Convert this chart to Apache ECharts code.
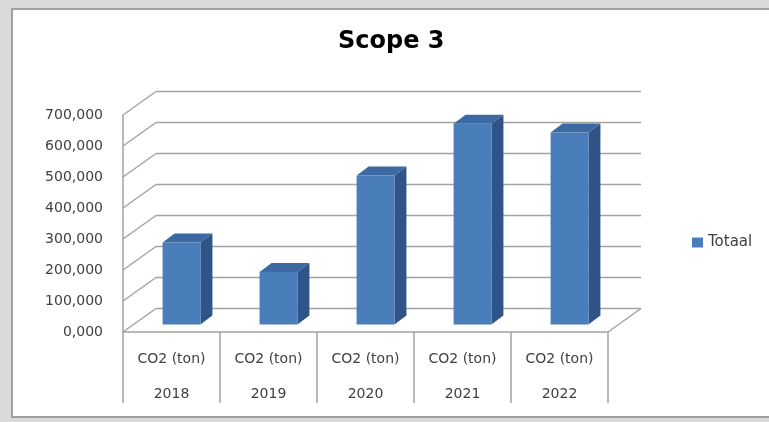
<!DOCTYPE html>
<html>
<head>
<meta charset="utf-8">
<script src="https://cdn.jsdelivr.net/npm/echarts@6/dist/echarts.min.js"></script>
<style>
  html, body { margin: 0; padding: 0; background: #d9d9d9; }
  #container { width: 769px; height: 422px; }
</style>
</head>
<body>
<div id="container"></div>
<script>
// data
var years = ['2018', '2019', '2020', '2021', '2022'];
var unitLabel = 'CO2 (ton)';
var totaal = [265, 170, 481, 648, 620];
var yTicks = [0, 100, 200, 300, 400, 500, 600, 700];

// 3D look
var WALL_DX = 33, WALL_DY = -23.5;   // back wall offset
var BAR_DX = 10, BAR_DY = -7.4;      // bar front face offset from front plane
var SIDE_DX = 12, SIDE_DY = -9;      // bar depth
var gridColor = '#a3a3a3';
var textColor = '#404040';
var font = 'DejaVu Sans';

var dom = document.getElementById('container');
var myChart = echarts.init(dom, null, { renderer: 'canvas' });

function fmt(v) {
  return v.toFixed(3).replace('.', ',');
}

// back wall, left wall lines, floor edge
function renderWalls(params, api) {
  var cs = params.coordSys;
  var left = cs.x, right = cs.x + cs.width;
  var y = api.coord([0, api.value(1)])[1];
  var style = { stroke: gridColor, lineWidth: 1.5 };
  var children = [
    { type: 'line', shape: { x1: left, y1: y, x2: left + WALL_DX, y2: y + WALL_DY }, style: style },
    { type: 'line', shape: { x1: left + WALL_DX, y1: y + WALL_DY, x2: right + WALL_DX, y2: y + WALL_DY }, style: style }
  ];
  if (api.value(1) === 0) {
    children.push({ type: 'line', shape: { x1: right, y1: y, x2: right + WALL_DX, y2: y + WALL_DY }, style: style });
  }
  return { type: 'group', children: children };
}

function renderBar(params, api) {
  var i = api.value(0);
  var base = api.coord([i, 0]);
  var top = api.coord([i, api.value(1)]);
  var band = api.size([1, 0])[0];
  var w = band * 0.39;
  var x0 = base[0] + BAR_DX - w / 2;
  var x1 = x0 + w;
  var yb = base[1] + BAR_DY;
  var yt = top[1] + BAR_DY;
  return {
    type: 'group',
    children: [
      { type: 'polygon', shape: { points: [[x1, yb], [x1 + SIDE_DX, yb + SIDE_DY], [x1 + SIDE_DX, yt + SIDE_DY], [x1, yt]] },
        style: { fill: '#2f5488' } },
      { type: 'polygon', shape: { points: [[x0, yt], [x1, yt], [x1 + SIDE_DX, yt + SIDE_DY], [x0 + SIDE_DX, yt + SIDE_DY]] },
        style: { fill: '#3d69a3' } },
      { type: 'rect', shape: { x: x0, y: yt, width: w, height: yb - yt },
        style: { fill: '#4a7ebb' } }
    ]
  };
}

var option = {
  backgroundColor: '#d9d9d9',
  animation: false,
  graphic: [{
    type: 'rect', z: -10, silent: true,
    shape: { x: 12, y: 9, width: 770, height: 408 },
    style: { fill: '#ffffff', stroke: '#a0a0a0', lineWidth: 2 }
  }],
  title: {
    text: 'Scope 3',
    left: 338,
    top: 30,
    padding: 0,
    textStyle: { fontFamily: font, fontSize: 24, fontWeight: 'bold', color: '#000' }
  },
  legend: {
    data: [{ name: 'Totaal', icon: 'rect' }],
    left: 692,
    top: 235,
    itemWidth: 11,
    itemHeight: 10,
    itemGap: 4,
    padding: 0,
    textStyle: { fontFamily: font, fontSize: 15, color: textColor }
  },
  grid: {
    left: 123,
    right: 161,
    top: 115,
    bottom: 90
  },
  xAxis: {
    type: 'category',
    data: years,
    axisLine: { lineStyle: { color: gridColor, width: 1.5 } },
    axisTick: { show: true, length: 71, interval: 0, lineStyle: { color: gridColor, width: 1.5 } },
    axisLabel: {
      interval: 0,
      margin: 10,
      lineHeight: 35,
      fontFamily: font,
      fontSize: 14,
      color: textColor,
      formatter: function (v) { return unitLabel + '\n' + v; }
    },
    splitLine: { show: false }
  },
  yAxis: {
    type: 'value',
    min: 0,
    max: 700,
    interval: 100,
    axisLine: { show: true, lineStyle: { color: gridColor, width: 1.5 } },
    axisTick: { show: false },
    splitLine: { show: false },
    axisLabel: {
      margin: 20,
      padding: [4, 0, 0, 0],
      fontFamily: font,
      fontSize: 14,
      color: textColor,
      formatter: fmt
    }
  },
  series: [
    {
      type: 'custom',
      name: 'walls',
      silent: true,
      clip: false,
      z: 1,
      renderItem: renderWalls,
      data: yTicks.map(function (v) { return [0, v]; })
    },
    {
      type: 'custom',
      name: 'Totaal',
      clip: false,
      z: 3,
      itemStyle: { color: '#4a7ebb' },
      renderItem: renderBar,
      data: totaal.map(function (v, i) { return [i, v]; })
    }
  ]
};

myChart.setOption(option);
window.addEventListener('resize', myChart.resize);
</script>
</body>
</html>
